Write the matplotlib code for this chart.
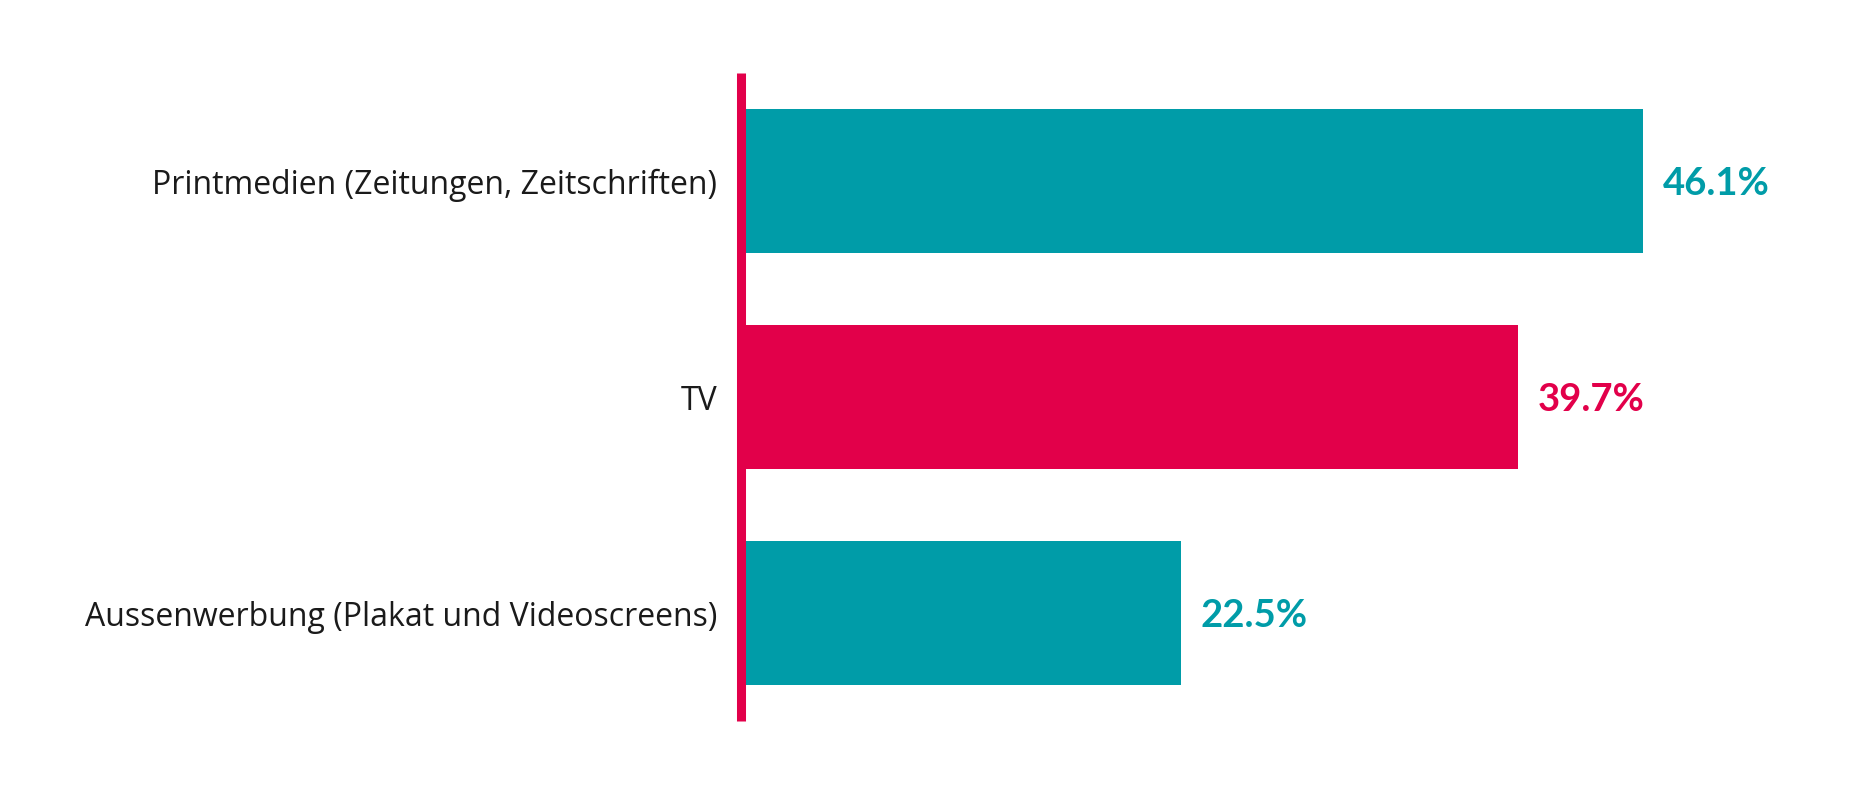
import matplotlib
matplotlib.use("Agg")
import matplotlib.pyplot as plt

categories = ["Printmedien (Zeitungen, Zeitschriften)", "TV", "Aussenwerbung (Plakat und Videoscreens)"]
values = [46.1, 39.7, 22.5]
value_labels = ["46.1%", "39.7%", "22.5%"]

TEAL = "#009CA8"
RED = "#E2004A"
bar_colors = [TEAL, RED, TEAL]

plt.rcParams["font.family"] = ["Open Sans", "DejaVu Sans"]

fig = plt.figure(figsize=(18.6, 7.89), dpi=100)
ax = fig.add_axes([741 / 1860, 68 / 789, 978.5 / 1860, 648 / 789])

y = list(range(len(categories)))
ax.barh(y, values, height=0.67, color=bar_colors, zorder=1)

ax.set_xlim(0, 50)
ax.set_ylim(2.5, -0.5)

for sp in ["top", "right", "bottom"]:
    ax.spines[sp].set_visible(False)
ax.spines["left"].set_color(RED)
ax.spines["left"].set_linewidth(6.5)
ax.spines["left"].set_capstyle("butt")
ax.spines["left"].set_zorder(3)

ax.set_xticks([])
ax.set_yticks(y)
ax.set_yticklabels(categories, fontsize=23, color="#1a1a1a")
ax.tick_params(axis="y", length=0, pad=17)

for yi, v, lab, c in zip(y, values, value_labels, bar_colors):
    ax.annotate(lab, xy=(v, yi), xytext=(14, 0), textcoords="offset points",
                ha="left", va="center_baseline", fontsize=27.5, fontweight="bold",
                color=c, family=["Lato", "DejaVu Sans"])

fig.savefig("out.png", dpi=100, facecolor="white")
